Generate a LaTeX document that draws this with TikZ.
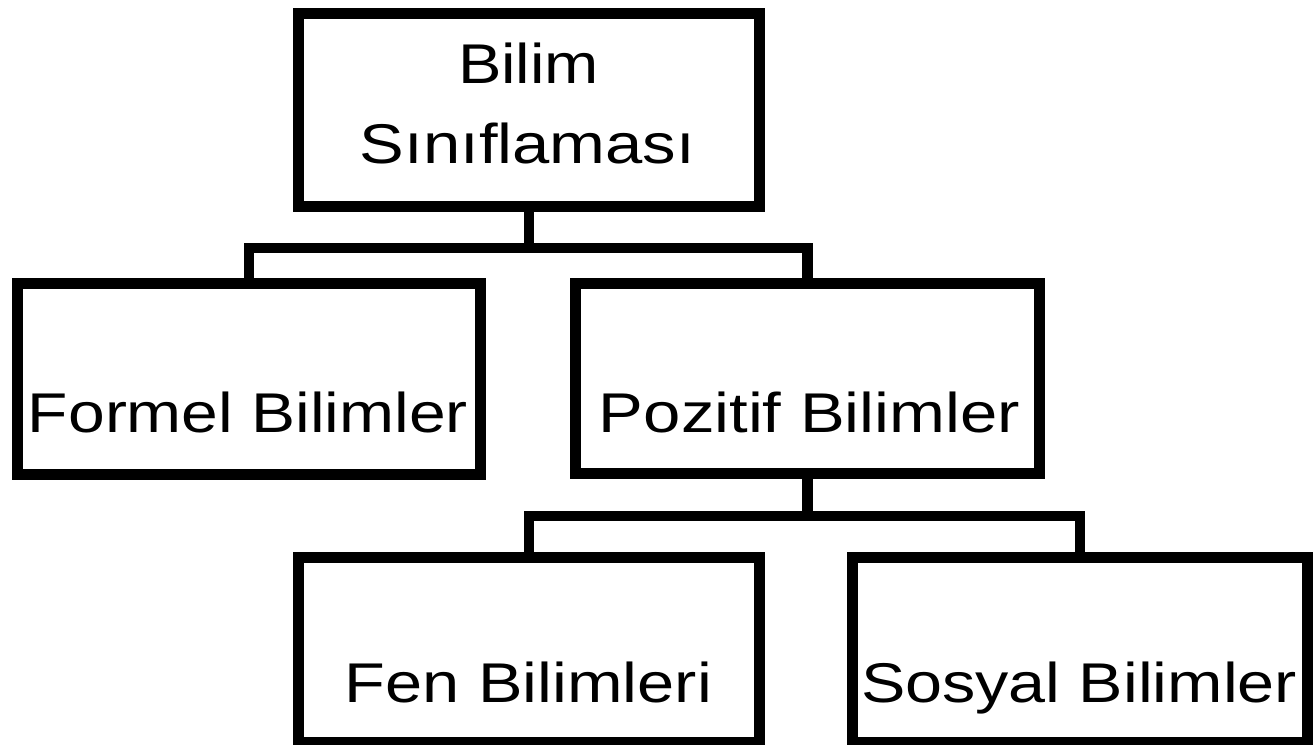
\documentclass[tikz,border=0pt]{standalone}
\usepackage{fontspec}
\setmainfont{Liberation Sans}
\usepackage{graphicx}
\newcommand\fitw[2]{\resizebox{#1}{\height}{#2}}
\begin{document}
\begin{tikzpicture}[x=1pt,y=-1pt,
  box/.style={draw=black, line width=11pt, fill=white, inner sep=0pt, outer sep=0pt},
  conn/.style={draw=black, line width=10.5pt, line join=miter},
  lbl/.style={anchor=base, inner sep=0pt, font=\fontsize{56}{60}\selectfont}]
\useasboundingbox[fill=white] (0,0) rectangle (1314,744);
% boxes
\node[box, minimum width=461pt, minimum height=193pt] (top) at (529,110) {};
\node[box, minimum width=463pt, minimum height=191pt] (formel) at (249,379) {};
\node[box, minimum width=464pt, minimum height=190pt] (pozitif) at (807.5,378.5) {};
\node[box, minimum width=461pt, minimum height=185pt] (fen) at (529,650) {};
\node[box, minimum width=455pt, minimum height=185pt] (sosyal) at (1080,650) {};
% junctions
\coordinate (j1) at (529,248);
\coordinate (j2) at (807.5,516);
% connectors
\draw[conn] (top.south) -- (j1);
\draw[conn] (formel.north) -- (formel.north |- j1) -- (pozitif.north |- j1) -- (pozitif.north);
\draw[conn] (pozitif.south) -- (j2);
\draw[conn] (fen.north) -- (fen.north |- j2) -- (sosyal.north |- j2) -- (sosyal.north);
% labels
\node[lbl] (t1) at (528.5,83) {\fitw{141pt}{Bilim}};
\node[lbl] (t2) at (527.5,163) {\fitw{335pt}{Sınıflaması}};
\node[lbl] (t3) at (248,432) {\fitw{440pt}{Formel Bilimler}};
\node[lbl] (t4) at (809.5,432) {\fitw{421pt}{Pozitif Bilimler}};
\node[lbl] (t5) at (528.5,702) {\fitw{367pt}{Fen Bilimleri}};
\node[lbl] (t6) at (1079,702) {\fitw{436pt}{Sosyal Bilimler}};
\end{tikzpicture}
\end{document}
